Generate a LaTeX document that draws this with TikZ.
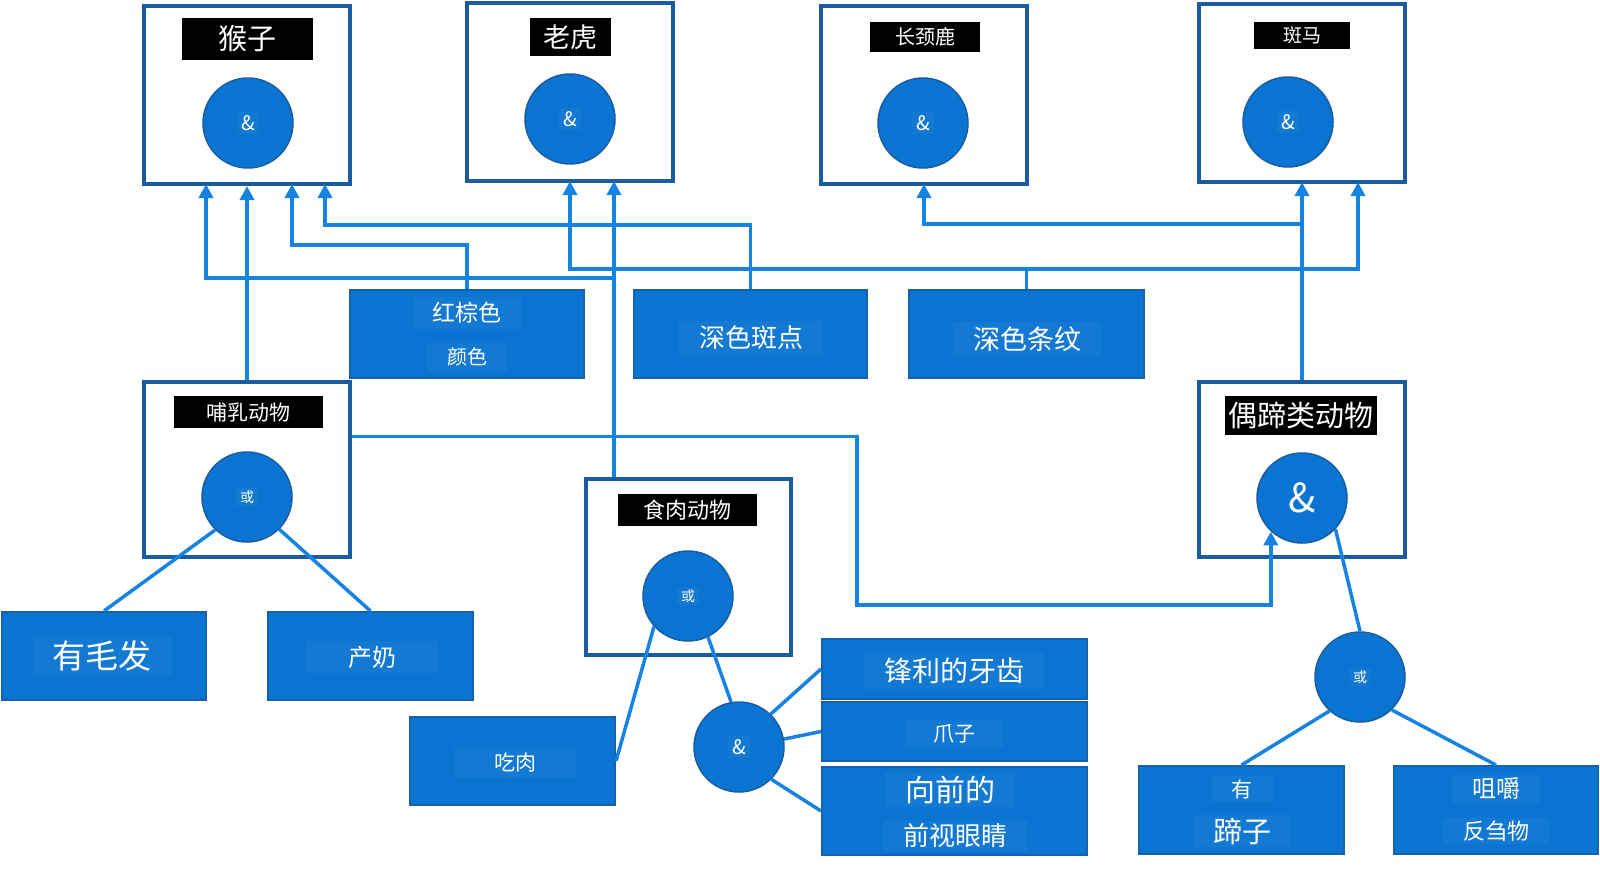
\documentclass[tikz,border=0pt]{standalone}
\usepackage{fontspec}
\setmainfont{Noto Sans CJK SC}
\usetikzlibrary{arrows.meta}

\definecolor{framecol}{RGB}{26,92,162}
\definecolor{gatecol}{RGB}{10,116,210}
\definecolor{gateedge}{RGB}{28,92,160}
\definecolor{leafcol}{RGB}{10,116,210}
\definecolor{leafedge}{RGB}{24,96,172}
\definecolor{linkcol}{RGB}{22,130,226}

\newcommand{\fs}[1]{\fontsize{#1}{#1}\selectfont}

\tikzset{
  frame/.style={draw=framecol, line width=4pt, fill=white, minimum width=206pt, minimum height=178pt, inner sep=0pt},
  tag/.style={fill=black, text=white, inner sep=0pt},
  gate/.style={circle, fill=gatecol, draw=gateedge, line width=1.5pt, minimum size=90pt, inner sep=0pt, text=white},
  leaf/.style={fill=leafcol, draw=leafedge, line width=2pt, inner sep=0pt},
  patch/.style={fill=white, fill opacity=0.04, text opacity=1, text=white, inner xsep=20pt, inner ysep=5pt},
  gatepatch/.style={patch, inner xsep=4pt, inner ysep=3pt},
  link/.style={draw=linkcol, line width=3.5pt},
  arr/.style={link, -{Triangle[length=14pt,width=14pt]}},
}

\begin{document}
\begin{tikzpicture}[x=1pt,y=-1pt]
\useasboundingbox (0,0) rectangle (1600,879);

% animals at the top
\node[frame] (mk) at (247,95) {};
\node[tag, minimum width=131pt, minimum height=42pt] (mk-tag) at (247.5,39) {\fs{29}猴子};
\node[gate] (mkg) at (248,123) {};
\node[gatepatch] (mkg-t) at (mkg) {\fs{20}\&};

\node[frame] (tg) at (570,92) {};
\node[tag, minimum width=81pt, minimum height=38pt] (tg-tag) at (570,37) {\fs{27}老虎};
\node[gate] (tgg) at (570,119) {};
\node[gatepatch] (tgg-t) at (tgg) {\fs{20}\&};

\node[frame] (gf) at (924,95) {};
\node[tag, minimum width=110pt, minimum height=30pt] (gf-tag) at (925,37) {\fs{20}长颈鹿};
\node[gate] (gfg) at (923,123) {};
\node[gatepatch] (gfg-t) at (gfg) {\fs{20}\&};

\node[frame] (zb) at (1302,93) {};
\node[tag, minimum width=96pt, minimum height=27pt] (zb-tag) at (1302,35) {\fs{19}斑马};
\node[gate] (zbg) at (1288,122) {};
\node[gatepatch] (zbg-t) at (zbg) {\fs{20}\&};

% features in the middle row
\node[leaf, minimum width=234pt, minimum height=88pt] (rb) at (467,334) {};
\node[patch] (rb-t1) at (467,313) {\fs{23}红棕色};
\node[patch] (rb-t2) at (467,357) {\fs{20}颜色};

\node[leaf, minimum width=233pt, minimum height=88pt] (ds) at (750.5,334) {};
\node[patch] (ds-t) at (751,338) {\fs{26}深色斑点};

\node[leaf, minimum width=235pt, minimum height=88pt] (dt) at (1026.5,334) {};
\node[patch] (dt-t) at (1027,339) {\fs{27}深色条纹};

% classes
\node[frame, minimum height=175pt] (mm) at (247,469.5) {};
\node[tag, minimum width=149pt, minimum height=32pt] (mm-tag) at (248,412) {\fs{21}哺乳动物};
\node[gate] (mmg) at (247,497) {};
\node[gatepatch] (mmg-t) at (mmg) {\fs{14}或};

\node[frame, minimum width=205pt, minimum height=176pt] (cv) at (688.5,567) {};
\node[tag, minimum width=139pt, minimum height=32pt] (cv-tag) at (687,510) {\fs{22}食肉动物};
\node[gate] (cvg) at (688,596) {};
\node[gatepatch] (cvg-t) at (cvg) {\fs{14}或};

\node[frame, minimum height=175pt] (ug) at (1302,469.5) {};
\node[tag, minimum width=152pt, minimum height=39pt] (ug-tag) at (1301,415) {\fs{29}偶蹄类动物};
\node[gate] (ugg) at (1302,498) {\fs{40}\&};

% bottom features
\node[leaf, minimum width=204pt, minimum height=88pt] (hair) at (104,656) {};
\node[patch] (hair-t) at (102,656) {\fs{33}有毛发};
\node[leaf, minimum width=205pt, minimum height=88pt] (milk) at (370.5,656) {};
\node[patch, inner xsep=42pt] (milk-t) at (372,657) {\fs{24}产奶};
\node[leaf, minimum width=205pt, minimum height=88pt] (meat) at (512.5,761) {};
\node[patch, inner xsep=40pt] (meat-t) at (515,763) {\fs{21}吃肉};

\node[gate] (andg) at (739,747) {};
\node[gatepatch] (andg-t) at (andg) {\fs{20}\&};
\node[leaf, minimum width=265pt, minimum height=60pt] (teeth) at (954.5,669) {};
\node[patch] (teeth-t) at (954,671) {\fs{28}锋利的牙齿};
\node[leaf, minimum width=265pt, minimum height=59pt] (claw) at (954.5,731.5) {};
\node[patch, inner xsep=28pt] (claw-t) at (954,734) {\fs{21}爪子};
\node[leaf, minimum width=265pt, minimum height=88pt] (eyes) at (954.5,811) {};
\node[patch, inner ysep=3pt] (eyes-t1) at (950,790) {\fs{30}向前的};
\node[patch, inner ysep=3pt] (eyes-t2) at (955,836) {\fs{26}前视眼睛};

\node[gate] (org) at (1360,677) {};
\node[gatepatch] (org-t) at (org) {\fs{14}或};
\node[leaf, minimum width=205pt, minimum height=88pt] (hoof) at (1241.5,810) {};
\node[patch, inner ysep=3pt] (hoof-t1) at (1242,789) {\fs{21}有};
\node[patch, inner ysep=3pt] (hoof-t2) at (1242,831) {\fs{29}蹄子};
\node[leaf, minimum width=204pt, minimum height=88pt] (cud) at (1496,810) {};
\node[patch, inner ysep=3pt] (cud-t1) at (1496,789) {\fs{24}咀嚼};
\node[patch, inner ysep=3pt] (cud-t2) at (1496,831) {\fs{22}反刍物};

% arrow ends under the top boxes
\coordinate (mk-a) at (206,184);
\coordinate (mk-c) at (292,184);
\coordinate (mk-d) at (325,184);
\coordinate (tg-a) at (570,181);
\coordinate (tg-b) at (614,181);
\coordinate (gf-a) at (924,184);
\coordinate (zb-a) at (1302,182);
\coordinate (zb-b) at (1358,182);
\coordinate (cv-j) at (614,278);

\draw[arr] (mm.north) -- (mk.south);
\draw[arr] (cv.north -| tg-b) -- (tg-b);
\draw[arr] (cv-j) -| (mk-a);
\draw[arr] (rb.north) -- ++(0,-44) -| (mk-c);
\draw[arr] (ds.north) -- ++(0,-64) -| (mk-d);
\draw[arr] (dt.north) -- ++(0,-20) -| (tg-a);
\draw[arr] (dt.north) -- ++(0,-20) -| (zb-b);
\draw[arr] (ug.north) -- (zb-a);
\draw[arr] (ug.north) -- ++(0,-156) -| (gf-a);
\draw[arr] ([yshift=33pt]mm.east) -| (857,605) -| (ugg.227);

% tree lines
\draw[link] (mmg.226) -- (hair.north);
\draw[link] (mmg.315) -- (milk.north);
\draw[link] (cvg.222) -- (meat.east);
\draw[link] (cvg.296) -- (andg.100);
\draw[link] (andg.46) -- (teeth.west);
\draw[link] (andg.10) -- (claw.west);
\draw[link] (andg.315) -- (eyes.west);
\draw[link] (ugg.317) -- (org.90);
\draw[link] (org.228) -- (hoof.north);
\draw[link] (org.314) -- (cud.north);
\end{tikzpicture}
\end{document}
